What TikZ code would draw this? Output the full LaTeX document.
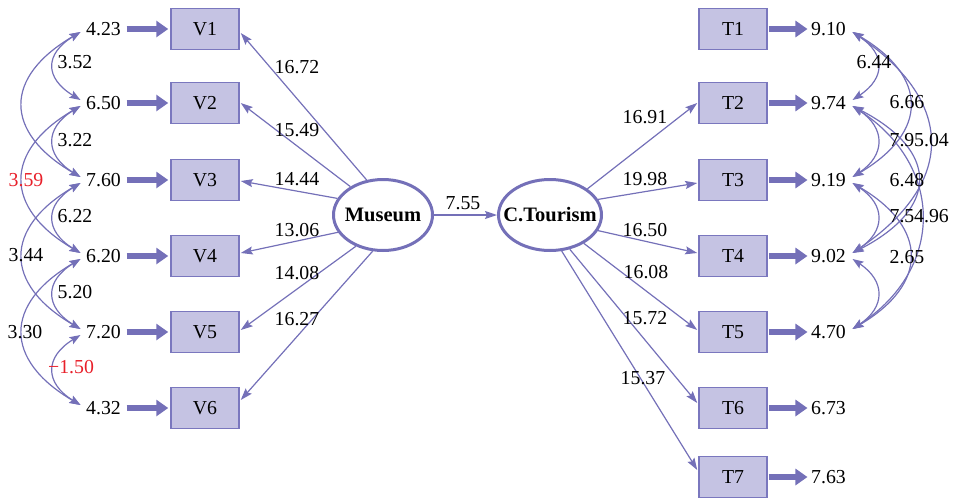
\documentclass[tikz,border=0pt]{standalone}
\usepackage{fontspec}
\setmainfont{Liberation Serif}
\usetikzlibrary{arrows.meta,shapes.geometric,calc}
\definecolor{lineC}{HTML}{7470B8}
\definecolor{boxF}{HTML}{C5C3E3}
\definecolor{boxD}{HTML}{7A77BE}
\definecolor{redC}{HTML}{E8202A}
\newcommand{\lcov}[4]{\draw[cov] ($(#1.west)+(-5,3)$) .. controls ($(#1.west)+(-5-#3,3+#4)$) and ($(#2.west)+(-5-#3,-3-#4)$) .. ($(#2.west)+(-5,-3)$);}
\newcommand{\rcov}[4]{\draw[cov] ($(#1.east)+(6,3)$) .. controls ($(#1.east)+(6+#3,3+#4)$) and ($(#2.east)+(6+#3,-3-#4)$) .. ($(#2.east)+(6,-3)$);}
\begin{document}
\begin{tikzpicture}[x=1pt,y=-1pt,
  every node/.style={font=\fontsize{19.8}{21}\selectfont},
  obs/.style={draw=boxD, fill=boxF, line width=1.5pt, minimum width=68pt, minimum height=41pt, inner sep=0},
  lat/.style={ellipse, draw=lineC, line width=3pt, fill=white, minimum height=71pt, inner sep=0, font=\fontsize{20.5}{21}\selectfont\bfseries},
  err/.style={inner sep=0.5pt},
  lbl/.style={inner sep=0},
  thickarr/.style={lineC, line width=5.5pt, -{Triangle[length=12pt,width=16pt]}, shorten <=5pt, shorten >=2pt},
  load/.style={lineC, line width=1.2pt, -{Stealth[length=12pt,width=8pt,inset=2pt]}},
  cov/.style={lineC, line width=1.2pt, {Stealth[length=11pt,width=8pt,inset=2pt]}-{Stealth[length=11pt,width=8pt,inset=2pt]}},
]
\useasboundingbox (0,0) rectangle (953,499);
% observed boxes
\node[obs] (V1) at (205,29) {V1};
\node[obs] (V2) at (205,103) {V2};
\node[obs] (V3) at (205,180) {V3};
\node[obs] (V4) at (205,256) {V4};
\node[obs] (V5) at (205,332) {V5};
\node[obs] (V6) at (205,408) {V6};
\node[obs] (T1) at (733,29) {T1};
\node[obs] (T2) at (733,103) {T2};
\node[obs] (T3) at (733,180) {T3};
\node[obs] (T4) at (733,256) {T4};
\node[obs] (T5) at (733,332) {T5};
\node[obs] (T6) at (733,408) {T6};
\node[obs] (T7) at (733,477) {T7};
% error values
\node[err] (e1) at (103.5,29) {4.23};
\node[err] (e2) at (103.5,103) {6.50};
\node[err] (e3) at (103.5,180) {7.60};
\node[err] (e4) at (103.5,256) {6.20};
\node[err] (e5) at (103.5,332) {7.20};
\node[err] (e6) at (103.5,408) {4.32};
\node[err] (d1) at (828.5,29) {9.10};
\node[err] (d2) at (828.5,103) {9.74};
\node[err] (d3) at (828.5,180) {9.19};
\node[err] (d4) at (828.5,256) {9.02};
\node[err] (d5) at (828.5,332) {4.70};
\node[err] (d6) at (828.5,408) {6.73};
\node[err] (d7) at (828.5,477) {7.63};
% latent
\node[lat, minimum width=99pt] (M) at (383,215) {\makebox[0pt]{Museum}};
\node[lat, minimum width=103pt] (C) at (550,215) {\makebox[0pt]{C.Tourism}};
% thick error arrows
\foreach \i in {1,...,6} {\draw[thickarr] (e\i.east) -- (V\i.west);}
\foreach \i in {1,...,7} {\draw[thickarr, shorten <=1pt, shorten >=3pt] (T\i.east) -- (d\i.west);}
% structural path
\draw[load] (M.east) -- (C.west);
\node[lbl] (p0) at (463,203) {7.55};
% loadings Museum
\draw[load] (M.115) -- ($(V1.east)+(1,4)$);
\draw[load] (M.139) -- ($(V2.east)+(1,0)$);
\draw[load] (M.160) -- ($(V3.east)+(1,1)$);
\draw[load] (M.201) -- ($(V4.east)+(1,-3)$);
\draw[load] (M.229) -- ($(V5.east)+(1,-2)$);
\draw[load] (M.254) -- ($(V6.east)+(1,-8)$);
\node[lbl] (m1) at (297,67) {16.72};
\node[lbl] (m2) at (297,130) {15.49};
\node[lbl] (m3) at (297,179) {14.44};
\node[lbl] (m4) at (297,230) {13.06};
\node[lbl] (m5) at (297,273) {14.08};
\node[lbl] (m6) at (297,319) {16.27};
% loadings C.Tourism
\draw[load] (C.35) -- ($(T2.west)+(-1,0)$);
\draw[load] (C.18) -- ($(T3.west)+(-1,3)$);
\draw[load] (C.-18) -- ($(T4.west)+(-1,-3)$);
\draw[load] (C.-40) -- ($(T5.west)+(-1,-2)$);
\draw[load] (C.-60) -- ($(T6.west)+(-1,-5)$);
\draw[load] (C.-72) -- ($(T7.west)+(-1,-7)$);
\node[lbl] (c2) at (645,117) {16.91};
\node[lbl] (c3) at (645,179) {19.98};
\node[lbl] (c4) at (645,230) {16.50};
\node[lbl] (c5) at (646,272) {16.08};
\node[lbl] (c6) at (645,318) {15.72};
\node[lbl] (c7) at (643,378) {15.37};
% left covariances
\lcov{e1}{e2}{36}{22}
\lcov{e2}{e3}{36}{22}
\lcov{e3}{e4}{36}{22}
\lcov{e4}{e5}{36}{22}
\lcov{e5}{e6}{36}{22}
\lcov{e1}{e3}{77}{45}
\lcov{e2}{e4}{77}{45}
\lcov{e3}{e5}{77}{45}
\lcov{e4}{e6}{77}{45}
\node[lbl] (k1) at (75,62) {3.52};
\node[lbl] (k2) at (75,140) {3.22};
\node[lbl] (k3) at (75,216) {6.22};
\node[lbl] (k4) at (75,292) {5.20};
\node[lbl, text=redC] (k5) at (71,367) {−1.50};
\node[lbl, text=redC] (k6) at (26,180) {3.59};
\node[lbl] (k7) at (26,255) {3.44};
\node[lbl] (k8) at (25,332) {3.30};
% right covariances
\rcov{d1}{d2}{33}{22}
\rcov{d2}{d3}{33}{22}
\rcov{d3}{d4}{33}{22}
\rcov{d4}{d5}{33}{22}
\rcov{d1}{d3}{76}{45}
\rcov{d1}{d4}{103}{70}
\rcov{d2}{d4}{87}{45}
\rcov{d2}{d5}{92}{60}
\rcov{d3}{d5}{76}{45}
\node[lbl] (r1) at (874,62) {6.44};
\node[lbl] (r2) at (907,102) {6.66};
\node[lbl] (r3) at (902,140) {7.9};
\node[lbl] (r4) at (931.5,140) {5.04};
\node[lbl] (r5) at (907,180) {6.48};
\node[lbl] (r6) at (902,216) {7.5};
\node[lbl] (r7) at (931.5,216) {4.96};
\node[lbl] (r8) at (907,257) {2.65};
\end{tikzpicture}
\end{document}
